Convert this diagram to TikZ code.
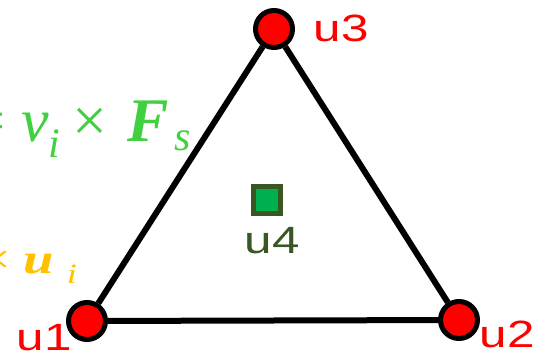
\documentclass[tikz,border=0pt]{standalone}
\usepackage{fontspec}
\setmainfont{Liberation Serif}
\setsansfont{Liberation Sans}
\definecolor{vred}{RGB}{255,0,0}
\definecolor{dkgreen}{RGB}{56,87,35}
\definecolor{sqgreen}{RGB}{0,176,80}
\definecolor{eqgreen}{RGB}{64,208,64}
\definecolor{eqgold}{RGB}{255,192,0}
\tikzset{
  vertex/.style={circle,draw=black,fill=vred,line width=5pt,minimum size=37pt,inner sep=0pt},
  marker/.style={rectangle,draw=dkgreen,fill=sqgreen,line width=5pt,minimum size=27pt,inner sep=0pt},
  vlabel/.style={anchor=base west,inner sep=0pt,xscale=1.3,font=\sffamily\fontsize{38}{40}\selectfont},
}
\begin{document}
\begin{tikzpicture}[x=1pt,y=-1pt]
\useasboundingbox (0,0) rectangle (553,355);
\clip (0,0) rectangle (553,355);
\node[vertex] (u1) at (87,321) {};
\node[vertex] (u2) at (459,320) {};
\node[vertex] (u3) at (274,29) {};
\draw[line width=6pt] (u1) -- (u2) -- (u3) -- (u1);
\node[marker] (u4) at (267,200) {};
\node[vlabel,text=vred] (l1) at (16.5,350) {u1};
\node[vlabel,text=vred] (l2) at (479.5,347) {u2};
\node[vlabel,text=vred] (l3) at (313.5,42) {u3};
\node[vlabel,text=dkgreen] (l4) at (244.5,253) {u4};
% partial formulas cut at the left edge
\node[anchor=base west,inner sep=0pt,text=eqgreen,font=\fontsize{62}{64}\selectfont] (fs) at (-30,142)
  {=\hspace{16pt}\textit{v}\raisebox{-16pt}{\fontsize{42}{42}\selectfont\textit{i}}\hspace{12pt}×\hspace{20pt}\textbf{\textit{F}}\hspace{6pt}\raisebox{-9pt}{\fontsize{42}{42}\selectfont\textit{s}}};
\node[anchor=base west,inner sep=0pt,xscale=1.3,text=eqgold,font=\fontsize{42}{44}\selectfont] (ui) at (-19.8,273)
  {×\hspace{9.8pt}\textbf{\textit{u}}\hspace{9.6pt}\raisebox{-10pt}{\fontsize{28}{28}\selectfont\textit{i}}};
\end{tikzpicture}
\end{document}
